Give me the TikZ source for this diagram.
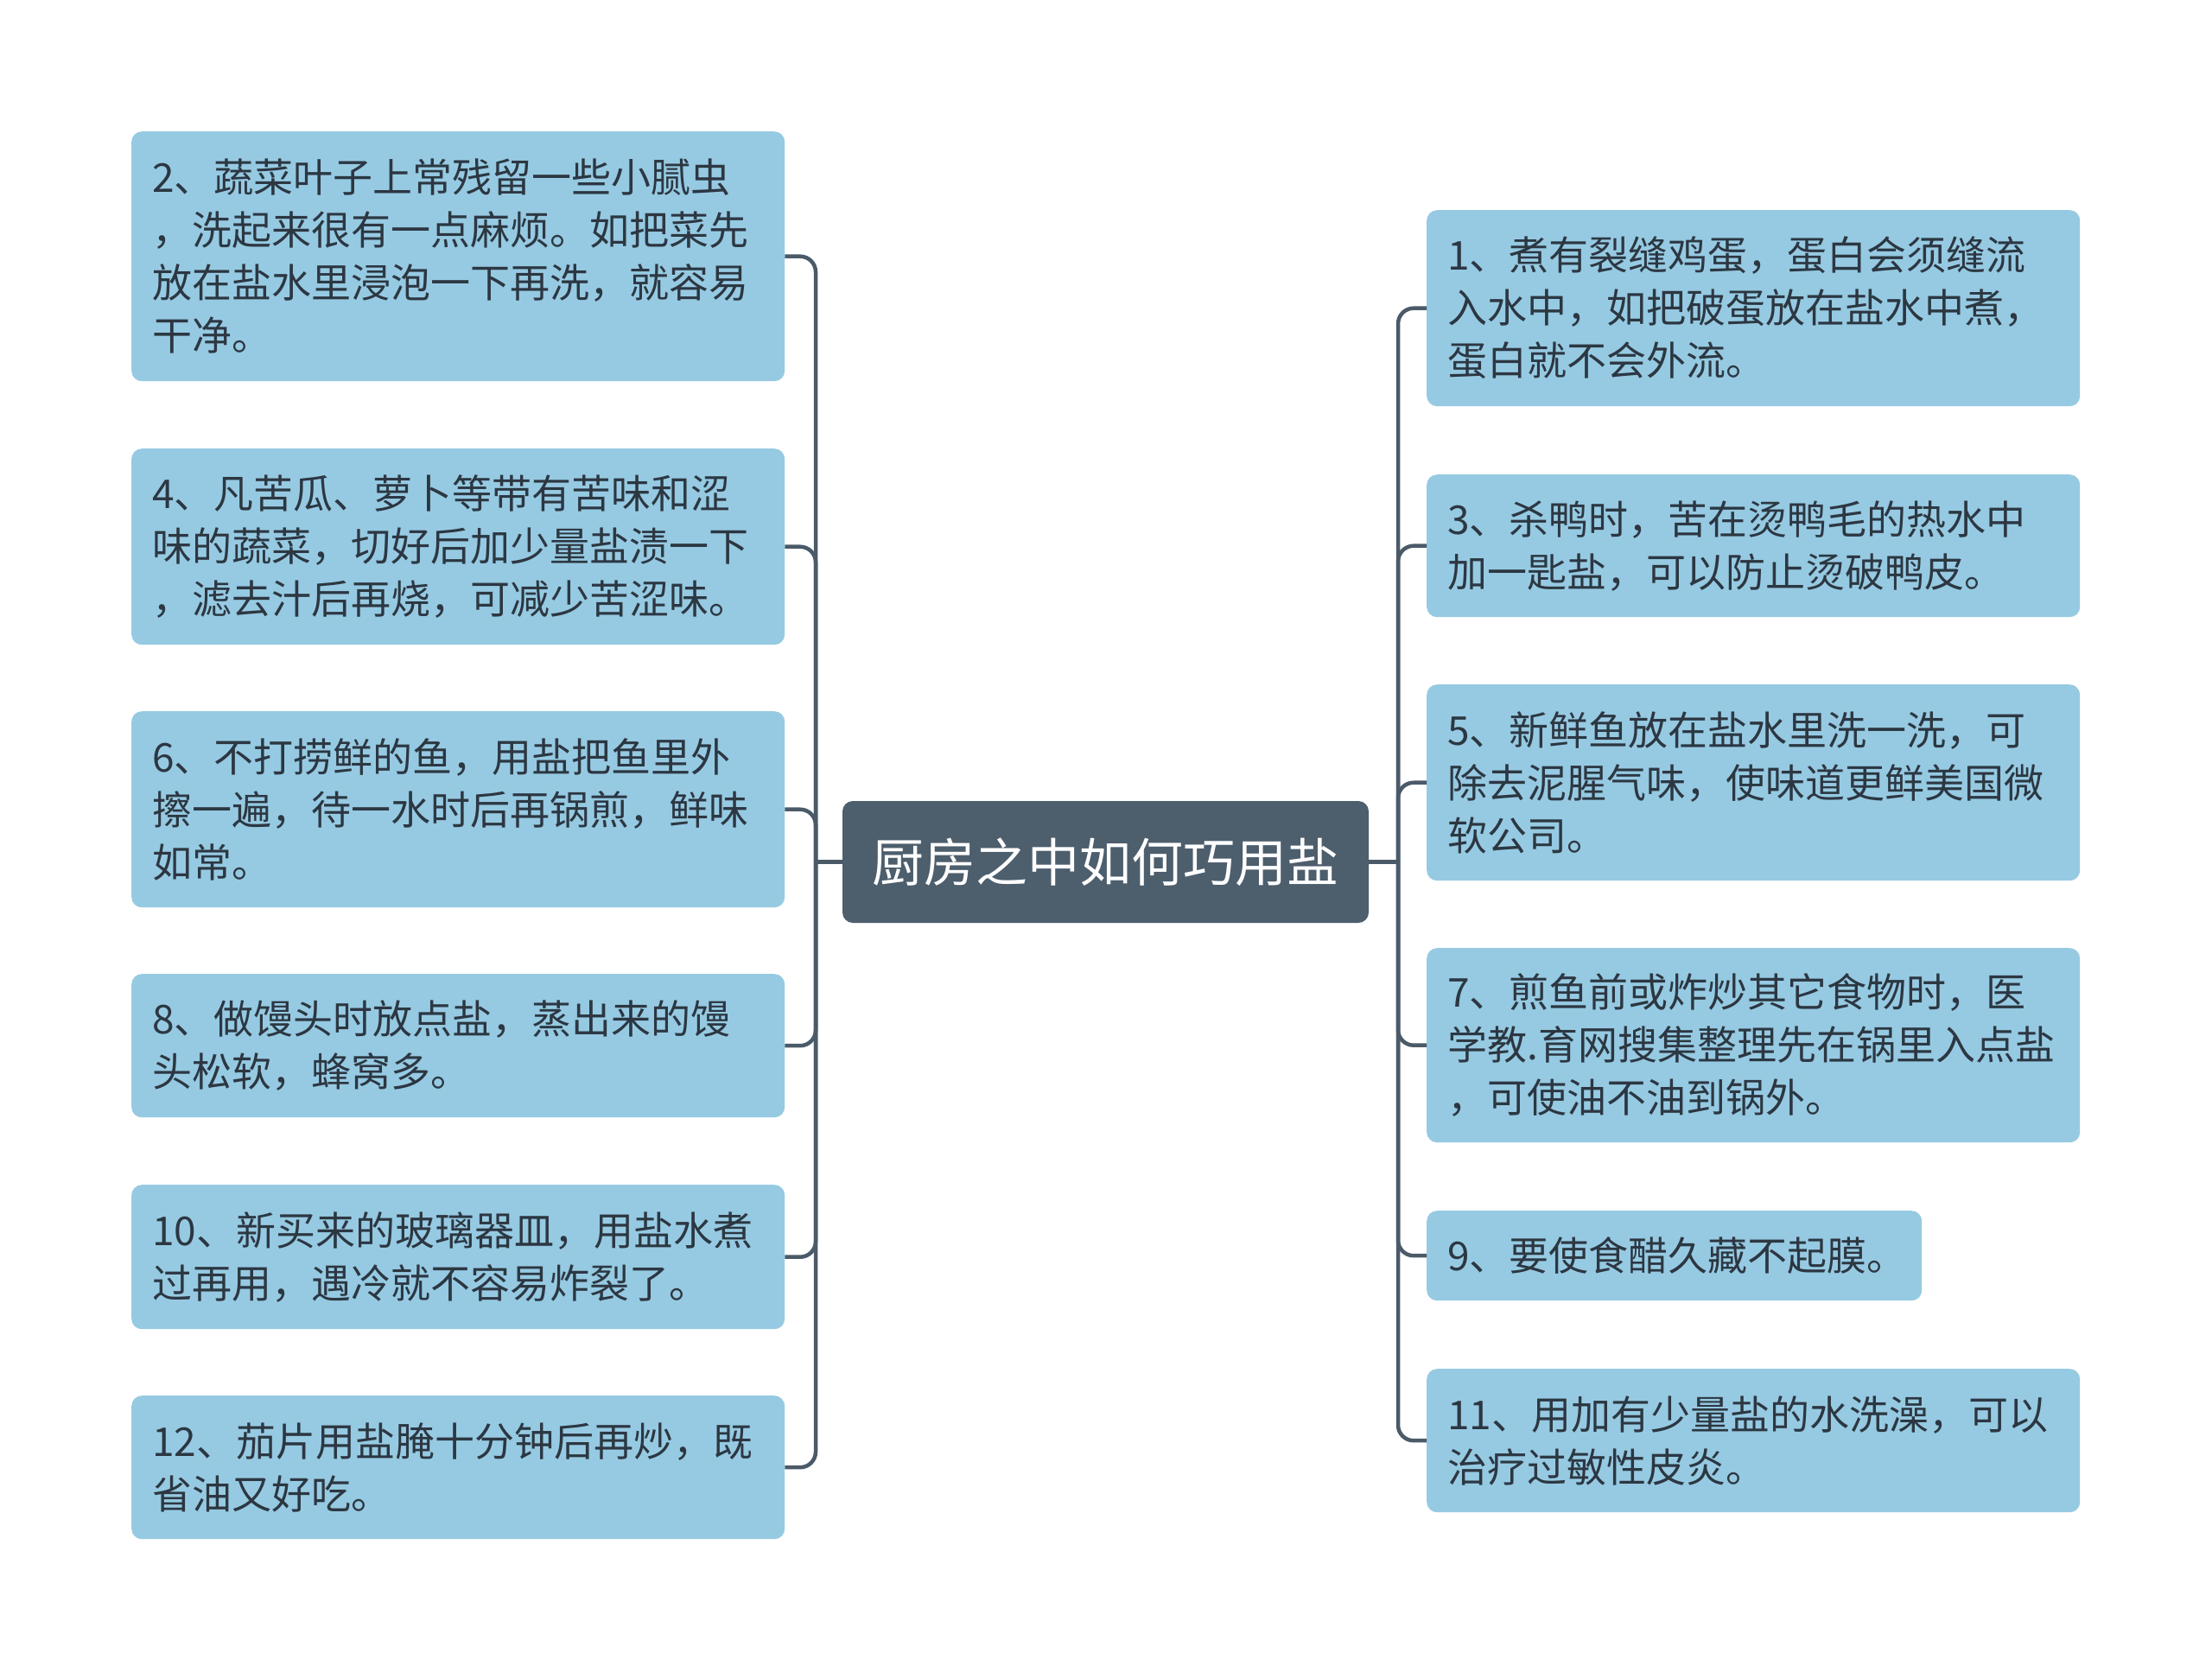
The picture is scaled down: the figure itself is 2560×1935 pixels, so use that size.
\documentclass[tikz,border=0pt]{standalone}
\usepackage{fontspec}
\newfontfamily\cjkfont{Noto Sans CJK SC}
\definecolor{boxfill}{HTML}{96CAE2}
\definecolor{boxtext}{HTML}{2C3742}
\definecolor{rootfill}{HTML}{4D5E6D}
\definecolor{linecol}{HTML}{4A5A68}
\tikzset{
  leaf/.style={anchor=north west, fill=boxfill, draw=none, rounded corners=12pt,
    inner xsep=24pt, inner ysep=0pt, align=left, text=boxtext,
    font=\cjkfont\fontsize{46}{61}\selectfont},
  rootnode/.style={fill=rootfill, rounded corners=12pt, text=white, inner sep=0pt,
    minimum width=609pt, minimum height=141pt,
    font=\cjkfont\fontsize{60}{72}\selectfont},
  conn/.style={draw=linecol, line width=4.5pt, rounded corners=18pt},
  stem/.style={draw=linecol, line width=4.5pt}
}
\begin{document}
\begin{tikzpicture}[x=1pt,y=-1pt]
\useasboundingbox[fill=white] (0,0) rectangle (2560,1935);

\node[rootnode] (root) at (1279.5,997.5) {厨房之中如何巧用盐};

% left side
\node[leaf, text width=708pt, minimum height=289pt] (b2) at (152,152)
  {2、蔬菜叶子上常残留一些小腻虫\\，洗起来很有一点麻烦。如把菜先\\放在盐水里浸泡一下再洗，就容易\\干净。};
\node[leaf, text width=708pt, minimum height=227pt] (b4) at (152,519)
  {4、凡苦瓜、萝卜等带有苦味和涩\\味的蔬菜，切好后加少量盐渍一下\\，滤去汁后再烧，可减少苦涩味。};
\node[leaf, text width=708pt, minimum height=227pt] (b6) at (152,823)
  {6、不打捞鲜的鱼，用盐把鱼里外\\擦一遍，待一水时后再锅煎，鲜味\\如常。};
\node[leaf, text width=708pt, minimum height=166pt] (b8) at (152,1127)
  {8、做馒头时放点盐，蒸出来的馒\\头松软，蜂窝多。};
\node[leaf, text width=708pt, minimum height=167pt] (b10) at (152,1371)
  {10、新买来的玻璃器皿，用盐水煮\\过再用，遇冷就不容易炸裂了。};
\node[leaf, text width=708pt, minimum height=166pt] (b12) at (152,1615)
  {12、茄片用盐腌十分钟后再炒，既\\省油又好吃。};

% right side
\node[leaf, text width=708pt, minimum height=227pt] (b1) at (1651,243)
  {1、煮有裂缝鸡蛋，蛋白会须缝流\\入水中，如把破蛋放在盐水中煮，\\蛋白就不会外流。};
\node[leaf, text width=708pt, minimum height=165pt] (b3) at (1651,549)
  {3、杀鸭时，苦在烫鸭毛的热水中\\加一匙盐，可以防止烫破鸭皮。};
\node[leaf, text width=708pt, minimum height=227pt] (b5) at (1651,792)
  {5、新鲜鱼放在盐水里洗一洗，可\\除去泥腥气味，使味道更鲜美国微\\软公司。};
\node[leaf, text width=708pt, minimum height=225pt] (b7) at (1651,1097)
  {7、煎鱼前或炸炒其它食物时，医\\学教.育网搜集整理先在锅里入点盐\\，可使油不油到锅外。};
\node[leaf, text width=525pt, minimum height=104pt] (b9) at (1651,1401)
  {9、要使食醋久藏不起膜。};
\node[leaf, text width=708pt, minimum height=166pt] (b11) at (1651,1584)
  {11、用加有少量盐的水洗澡，可以\\治疗过敏性皮炎。};

% connectors
\coordinate (lbus) at (944,997.5);
\coordinate (rbus) at (1618,997.5);
\draw[stem] (root.west) -- (lbus);
\draw[stem] (root.east) -- (rbus);
\foreach \c in {b2,b4,b6,b8,b10,b12}
  \draw[conn] (lbus) |- (\c.east);
\foreach \c in {b1,b3,b5,b7,b9,b11}
  \draw[conn] (rbus) |- (\c.west);
\end{tikzpicture}
\end{document}
